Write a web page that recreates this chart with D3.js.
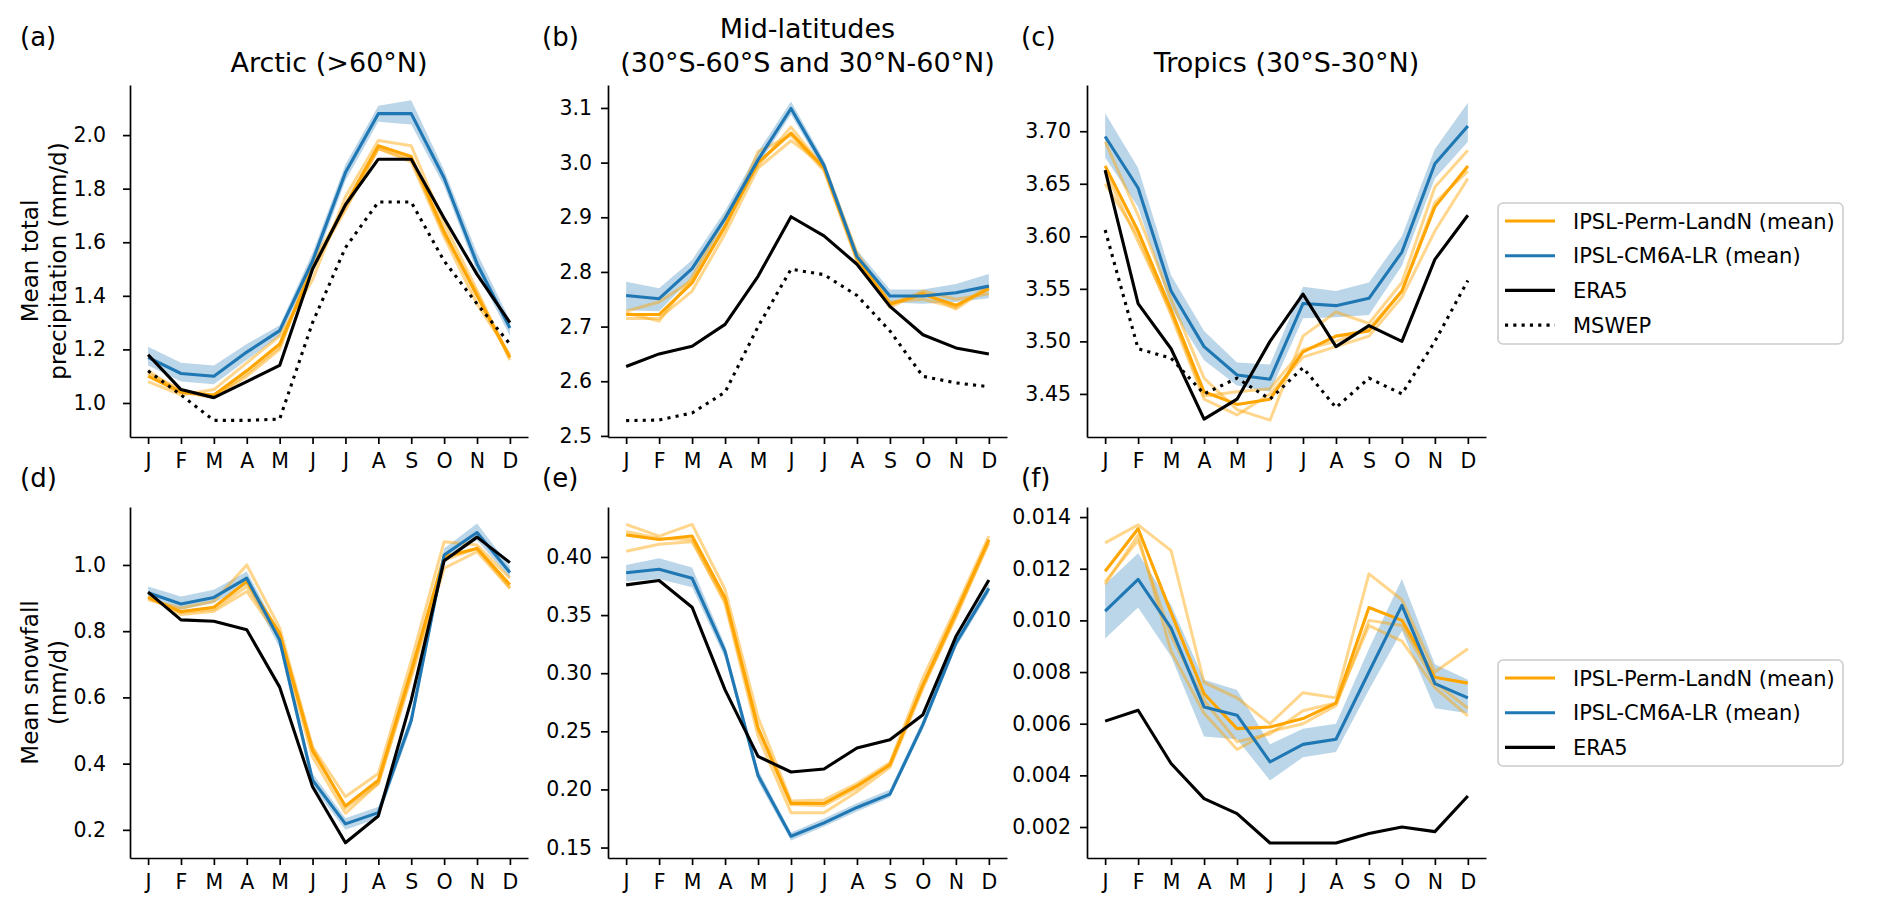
<!DOCTYPE html>
<html><head><meta charset="utf-8">
<script src="https://cdn.jsdelivr.net/npm/d3@7"></script>
<style>body{margin:0;background:#fff} text{font-family:"DejaVu Sans",sans-serif;fill:#000}</style>
</head><body><svg id="c" width="1892" height="917" xmlns="http://www.w3.org/2000/svg"></svg>
<script>
// ---------------- DATA ----------------
const months = ["J","F","M","A","M","J","J","A","S","O","N","D"];

// (a) Arctic total precipitation
const permMean_a = [1.10,1.04,1.03,1.12,1.22,1.50,1.74,1.96,1.92,1.64,1.40,1.17];
const permM1_a   = [1.08,1.03,1.05,1.15,1.25,1.46,1.77,1.98,1.96,1.67,1.42,1.16];
const permM2_a   = [1.11,1.05,1.02,1.10,1.20,1.53,1.73,1.95,1.90,1.62,1.37,1.18];
const permM3_a   = [1.12,1.04,1.02,1.11,1.21,1.51,1.72,1.95,1.91,1.63,1.41,1.17];
const cm6Mean_a  = [1.17,1.11,1.10,1.19,1.27,1.53,1.86,2.08,2.08,1.84,1.52,1.28];
const cm6Lo_a    = [1.14,1.08,1.07,1.16,1.25,1.50,1.83,2.05,2.04,1.81,1.49,1.25];
const cm6Hi_a    = [1.21,1.15,1.14,1.22,1.29,1.56,1.89,2.11,2.13,1.87,1.56,1.31];
const era5_a     = [1.18,1.05,1.02,1.08,1.14,1.50,1.74,1.91,1.91,1.69,1.48,1.30];
const mswep_a    = [1.12,1.03,0.935,0.935,0.94,1.30,1.58,1.75,1.75,1.53,1.37,1.22];

// (b) Mid-latitudes total precipitation
const permMean_b = [2.722,2.722,2.780,2.884,3.000,3.054,2.990,2.826,2.741,2.759,2.739,2.769];
const permM1_b   = [2.715,2.715,2.765,2.870,2.990,3.040,2.995,2.835,2.745,2.750,2.735,2.775];
const permM2_b   = [2.728,2.745,2.785,2.880,3.020,3.050,2.985,2.820,2.735,2.765,2.750,2.760];
const permM3_b   = [2.725,2.710,2.790,2.900,2.995,3.065,2.990,2.822,2.742,2.762,2.732,2.772];
const cm6Mean_b  = [2.757,2.751,2.806,2.898,3.005,3.099,2.995,2.828,2.756,2.756,2.762,2.774];
const cm6Lo_b    = [2.730,2.728,2.790,2.885,2.995,3.088,2.985,2.818,2.744,2.742,2.745,2.752];
const cm6Hi_b    = [2.782,2.770,2.822,2.912,3.020,3.112,3.005,2.840,2.768,2.768,2.778,2.796];
const era5_b     = [2.627,2.650,2.664,2.704,2.792,2.901,2.866,2.814,2.737,2.685,2.661,2.650];
const mswep_b    = [2.528,2.529,2.542,2.580,2.700,2.805,2.795,2.757,2.692,2.609,2.597,2.590];

// (c) Tropics total precipitation
const permMean_c = [3.667,3.605,3.530,3.452,3.440,3.445,3.490,3.505,3.510,3.548,3.628,3.667];
const permM1_c   = [3.690,3.620,3.540,3.465,3.435,3.425,3.505,3.528,3.517,3.556,3.647,3.682];
const permM2_c   = [3.650,3.600,3.525,3.445,3.430,3.450,3.485,3.495,3.505,3.542,3.605,3.655];
const permM3_c   = [3.662,3.595,3.528,3.448,3.452,3.455,3.492,3.500,3.512,3.548,3.632,3.662];
const cm6Mean_c  = [3.695,3.646,3.548,3.495,3.468,3.464,3.536,3.534,3.541,3.585,3.669,3.705];
const cm6Lo_c    = [3.675,3.628,3.532,3.482,3.458,3.452,3.522,3.523,3.525,3.572,3.655,3.690];
const cm6Hi_c    = [3.717,3.665,3.563,3.510,3.480,3.478,3.552,3.548,3.556,3.600,3.683,3.727];
const era5_c     = [3.663,3.536,3.493,3.426,3.445,3.500,3.545,3.495,3.515,3.500,3.578,3.620];
const mswep_c    = [3.606,3.493,3.484,3.450,3.465,3.445,3.475,3.437,3.465,3.450,3.500,3.558];

// (d) Arctic snowfall
const permMean_d = [0.902,0.859,0.872,0.950,0.794,0.439,0.272,0.350,0.680,1.025,1.050,0.940];
const permM1_d   = [0.895,0.870,0.890,1.000,0.810,0.450,0.300,0.370,0.710,1.070,1.060,0.960];
const permM2_d   = [0.905,0.850,0.860,0.920,0.780,0.420,0.250,0.340,0.660,0.990,1.040,0.930];
const permM3_d   = [0.900,0.857,0.866,0.935,0.790,0.447,0.265,0.340,0.670,1.015,1.050,0.930];
const cm6Mean_d  = [0.916,0.882,0.902,0.960,0.773,0.350,0.218,0.252,0.530,1.030,1.098,0.977];
const cm6Lo_d    = [0.900,0.865,0.885,0.940,0.750,0.330,0.200,0.235,0.510,1.010,1.075,0.960];
const cm6Hi_d    = [0.935,0.905,0.925,0.980,0.795,0.370,0.235,0.270,0.550,1.050,1.125,0.995];
const era5_d     = [0.918,0.834,0.830,0.804,0.631,0.330,0.161,0.242,0.592,1.013,1.084,1.007];

// (e) Mid-latitudes snowfall
const permMean_e = [0.419,0.415,0.418,0.365,0.253,0.188,0.188,0.203,0.221,0.290,0.352,0.415];
const permM1_e   = [0.428,0.418,0.428,0.372,0.262,0.190,0.191,0.205,0.223,0.296,0.356,0.418];
const permM2_e   = [0.422,0.416,0.415,0.360,0.246,0.180,0.180,0.198,0.219,0.287,0.350,0.412];
const permM3_e   = [0.405,0.411,0.413,0.362,0.252,0.187,0.186,0.201,0.222,0.289,0.348,0.414];
const cm6Mean_e  = [0.3865,0.3894,0.3817,0.3187,0.212,0.1597,0.1712,0.1845,0.1960,0.2557,0.3259,0.3730];
const cm6Lo_e    = [0.379,0.381,0.374,0.313,0.207,0.156,0.168,0.181,0.193,0.252,0.322,0.369];
const cm6Hi_e    = [0.393,0.399,0.391,0.324,0.217,0.163,0.175,0.188,0.200,0.260,0.330,0.377];
const era5_e     = [0.376,0.3797,0.3568,0.2857,0.2284,0.215,0.2176,0.2357,0.2428,0.2643,0.3315,0.3802];

// (f) Tropics snowfall
const permMean_f = [0.0119,0.01355,0.0103,0.00716,0.00581,0.00587,0.0062,0.0068,0.0105,0.0100,0.0078,0.00757];
const permM1_f   = [0.0130,0.0137,0.0127,0.0076,0.0070,0.0060,0.0072,0.0070,0.0118,0.0108,0.0080,0.0089];
const permM2_f   = [0.0114,0.0133,0.0088,0.0064,0.0050,0.0057,0.0060,0.0067,0.0100,0.0098,0.0076,0.0066];
const permM3_f   = [0.0115,0.0131,0.0094,0.0069,0.0053,0.0056,0.0065,0.0068,0.0098,0.0092,0.0074,0.0063];
const cm6Mean_f  = [0.01036,0.01159,0.0097,0.00665,0.00633,0.00452,0.0052,0.0054,0.0080,0.01058,0.00755,0.0070];
const cm6Lo_f    = [0.0093,0.0105,0.0086,0.0055,0.0054,0.0038,0.0047,0.0049,0.0073,0.0096,0.0066,0.0064];
const cm6Hi_f    = [0.0114,0.0126,0.0106,0.0077,0.0073,0.0052,0.0058,0.0060,0.0089,0.0116,0.0083,0.0077];
const era5_f     = [0.0061,0.00652,0.00446,0.0031,0.00252,0.00138,0.00138,0.00138,0.00175,0.0020,0.00182,0.0032];

// tick values
const ticks_a = [1.0,1.2,1.4,1.6,1.8,2.0];
const ticks_b = [2.5,2.6,2.7,2.8,2.9,3.0,3.1];
const ticks_c = [3.45,3.50,3.55,3.60,3.65,3.70];
const ticks_d = [0.2,0.4,0.6,0.8,1.0];
const ticks_e = [0.15,0.20,0.25,0.30,0.35,0.40];
const ticks_f = [0.002,0.004,0.006,0.008,0.010,0.012,0.014];

const legendTop = ["IPSL-Perm-LandN (mean)","IPSL-CM6A-LR (mean)","ERA5","MSWEP"];
const legendBottom = ["IPSL-Perm-LandN (mean)","IPSL-CM6A-LR (mean)","ERA5"];

// ---------------- DRAWING ----------------
const ORANGE = "#ffa500", BLUE = "#1f77b4";
const svg = d3.select("#c");

const panels = [
  {lab:"(a)", x0:130, x1:528, y0:85, y1:437, dom:[0.873,2.187], ticks:ticks_a, fmt:".1f", pad:17, ly:46,
   mean:permMean_a, mem:[permM1_a,permM2_a,permM3_a], cm:cm6Mean_a, lo:cm6Lo_a, hi:cm6Hi_a, era:era5_a, msw:mswep_a},
  {lab:"(b)", x0:608, x1:1007, y0:85, y1:437, dom:[2.498,3.142], ticks:ticks_b, fmt:".1f", pad:9, ly:46,
   mean:permMean_b, mem:[permM1_b,permM2_b,permM3_b], cm:cm6Mean_b, lo:cm6Lo_b, hi:cm6Hi_b, era:era5_b, msw:mswep_b},
  {lab:"(c)", x0:1087, x1:1486, y0:85, y1:437, dom:[3.409,3.744], ticks:ticks_c, fmt:".2f", pad:9, ly:46,
   mean:permMean_c, mem:[permM1_c,permM2_c,permM3_c], cm:cm6Mean_c, lo:cm6Lo_c, hi:cm6Hi_c, era:era5_c, msw:mswep_c},
  {lab:"(d)", x0:130, x1:528, y0:507, y1:858, dom:[0.115,1.175], ticks:ticks_d, fmt:".1f", pad:17, ly:487,
   mean:permMean_d, mem:[permM1_d,permM2_d,permM3_d], cm:cm6Mean_d, lo:cm6Lo_d, hi:cm6Hi_d, era:era5_d},
  {lab:"(e)", x0:608, x1:1007, y0:507, y1:858, dom:[0.141,0.443], ticks:ticks_e, fmt:".2f", pad:9, ly:487,
   mean:permMean_e, mem:[permM1_e,permM2_e,permM3_e], cm:cm6Mean_e, lo:cm6Lo_e, hi:cm6Hi_e, era:era5_e},
  {lab:"(f)", x0:1087, x1:1486, y0:507, y1:858, dom:[0.0008,0.01439], ticks:ticks_f, fmt:".3f", pad:9, ly:487,
   mean:permMean_f, mem:[permM1_f,permM2_f,permM3_f], cm:cm6Mean_f, lo:cm6Lo_f, hi:cm6Hi_f, era:era5_f}
];

panels.forEach(p => {
  const g = svg.append("g");
  const x = d3.scaleLinear().domain([-0.55, 11.55]).range([p.x0, p.x1]);
  const y = d3.scaleLinear().domain(p.dom).range([p.y1, p.y0]);
  const line = d3.line().x((d,i)=>x(i)).y(d=>y(d));
  const area = d3.area().x((d,i)=>x(i)).y0(d=>y(d[0])).y1(d=>y(d[1]));

  g.append("path").datum(d3.zip(p.lo,p.hi)).attr("d",area)
    .attr("fill",BLUE).attr("fill-opacity",0.3).attr("stroke","none");
  p.mem.forEach(m => g.append("path").datum(m).attr("d",line).attr("fill","none")
    .attr("stroke",ORANGE).attr("stroke-opacity",0.45).attr("stroke-width",3).attr("stroke-linejoin","round"));
  g.append("path").datum(p.mean).attr("d",line).attr("fill","none")
    .attr("stroke",ORANGE).attr("stroke-width",3.1).attr("stroke-linejoin","round");
  g.append("path").datum(p.cm).attr("d",line).attr("fill","none")
    .attr("stroke",BLUE).attr("stroke-width",3.1).attr("stroke-linejoin","round");
  g.append("path").datum(p.era).attr("d",line).attr("fill","none")
    .attr("stroke","#000").attr("stroke-width",3.1).attr("stroke-linejoin","round");
  if (p.msw) g.append("path").datum(p.msw).attr("d",line).attr("fill","none")
    .attr("stroke","#000").attr("stroke-width",3.1).attr("stroke-dasharray","3.1 5.2");

  const ya = g.append("g").attr("transform",`translate(${p.x0},0)`)
    .call(d3.axisLeft(y).tickValues(p.ticks).tickFormat(d3.format(p.fmt)).tickSize(7).tickSizeOuter(0).tickPadding(p.pad));
  const xa = g.append("g").attr("transform",`translate(0,${p.y1})`)
    .call(d3.axisBottom(x).tickValues(d3.range(12)).tickFormat(i=>months[i]).tickSize(7).tickSizeOuter(0).tickPadding(9));
  [ya,xa].forEach(a => {
    a.select(".domain").attr("stroke","#000").attr("stroke-width",1.7);
    a.selectAll(".tick line").attr("stroke","#000").attr("stroke-width",1.7);
    a.selectAll(".tick text").attr("font-size",20.5).attr("font-family","DejaVu Sans").attr("fill","#000");
  });

  svg.append("text").attr("x", p.lab==="(a)"||p.lab==="(d)" ? 20 : (p.x0-66))
    .attr("y", p.ly).attr("font-size",26).text(p.lab);
});

// titles
function title(lines, cx, yLast){
  lines.forEach((t,i)=> svg.append("text").attr("x",cx).attr("y",yLast-(lines.length-1-i)*34)
    .attr("text-anchor","middle").attr("font-size",27).text(t));
}
title(["Arctic (>60°N)"], 329, 72);
title(["Mid-latitudes","(30°S-60°S and 30°N-60°N)"], 807.5, 72);
title(["Tropics (30°S-30°N)"], 1286.5, 72);

// y labels
function ylabel(lines, cx, cy){
  const t = svg.append("g").attr("transform",`translate(${cx},${cy}) rotate(-90)`);
  lines.forEach((s,i)=> t.append("text").attr("x",0).attr("y",i*28).attr("text-anchor","middle").attr("font-size",23).text(s));
}
ylabel(["Mean total","precipitation (mm/d)"], 38, 261);
ylabel(["Mean snowfall","(mm/d)"], 38, 682.5);

// legends
function legend(labels, x, top, h){
  const g = svg.append("g");
  g.append("rect").attr("x",x).attr("y",top).attr("width",345).attr("height",h).attr("rx",5)
    .attr("fill","#fff").attr("fill-opacity",0.8).attr("stroke","#cccccc").attr("stroke-width",1.6);
  const styles = [{c:ORANGE},{c:BLUE},{c:"#000"},{c:"#000",dash:"3.1 5.2"}];
  labels.forEach((lab,i)=>{
    const yy = top + 18 + i*34.7;
    const l = g.append("line").attr("x1",x+7).attr("x2",x+57).attr("y1",yy).attr("y2",yy)
      .attr("stroke",styles[i].c).attr("stroke-width",3.1);
    if (styles[i].dash) l.attr("stroke-dasharray",styles[i].dash);
    g.append("text").attr("x",x+75).attr("y",yy).attr("dy","0.36em").attr("font-size",21).text(lab);
  });
}
legend(legendTop, 1498, 203, 141);
legend(legendBottom, 1498, 660, 106);
</script></body></html>
